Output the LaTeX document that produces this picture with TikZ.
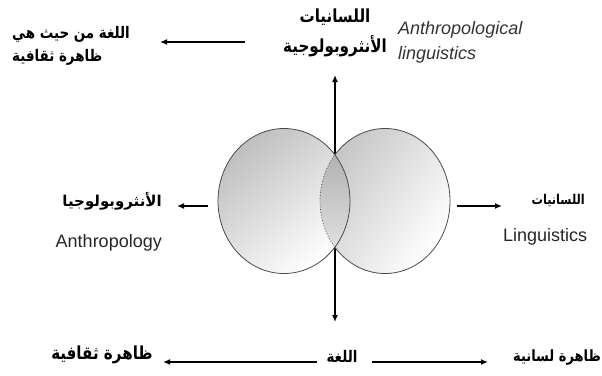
\documentclass[tikz,border=0pt]{standalone}
\usepackage{fontspec}
\setmainfont{Liberation Sans}
\newfontfamily\arabicfont[Script=Arabic, FakeStretch=0.84]{DejaVu Sans}
\newfontfamily\arabicwide[Script=Arabic]{DejaVu Sans}
\TeXXeTstate=1
\usetikzlibrary{arrows.meta}
\tikzset{
  arr/.style={line width=1.8pt, -{Latex[length=7pt,width=6pt]}},
  darr/.style={line width=1.8pt, {Latex[length=7pt,width=6pt]}-{Latex[length=7pt,width=6pt]}},
  ar/.style={font=\arabicfont\bfseries\fontsize{#1}{#1}\selectfont, inner sep=0pt},
  ar/.default=15.5,
  arw/.style={font=\arabicwide\bfseries\fontsize{#1}{#1}\selectfont, inner sep=0pt},
  lat/.style={font=\fontsize{18}{20}\selectfont, inner sep=0pt, text=black!85},
  latit/.style={font=\itshape\fontsize{18}{20}\selectfont, inner sep=0pt, text=black!80},
  outl/.style={draw=black!70, line width=0.8pt},
}
\begin{document}
\begin{tikzpicture}[x=1pt,y=-1pt]
\useasboundingbox (0,0) rectangle (602,375);
% vertical arrow (behind circles)
\coordinate (vt) at (335,75);
\coordinate (vb) at (335,322);
\draw[darr] (vt) -- (vb);
% circles
\path[shading=axis, top color=gray!50, bottom color=white, shading angle=40]
  (284,201) ellipse [x radius=66, y radius=72.5];
\path[shading=axis, top color=gray!45, bottom color=white, shading angle=55]
  (385,201) ellipse [x radius=65, y radius=72.5];
\begin{scope}
  \clip (284,201) ellipse [x radius=66, y radius=72.5];
  \path[shading=axis, top color=gray!70, bottom color=gray!15]
    (385,201) ellipse [x radius=65, y radius=72.5];
  \draw[outl, dotted] (385,201) ellipse [x radius=65, y radius=72.5];
\end{scope}
\begin{scope}[even odd rule]
  \clip (0,0) rectangle (602,375) (284,201) ellipse [x radius=66, y radius=72.5];
  \draw[outl] (385,201) ellipse [x radius=65, y radius=72.5];
\end{scope}
\draw[outl] (284,201) ellipse [x radius=66, y radius=72.5];
% top left
\node[ar=16, anchor=west] (tl1) at (12,34) {\beginR اللغة من حيث هي\endR};
\node[ar=16, anchor=west] (tl2) at (12,57) {\beginR ظاهرة ثقافية\endR};
\coordinate (tas) at (245,42);
\coordinate (tae) at (160,42);
\draw[arr] (tas) -- (tae);
% top centre
\node[ar=18] (tc1) at (335,17) {\beginR اللسانيات\endR};
\node[ar=18] (tc2) at (335,46) {\beginR الأنثروبولوجية\endR};
\node[latit, anchor=west] (al1) at (398,30) {Anthropological};
\node[latit, anchor=west] (al2) at (398,55) {linguistics};
% left
\node[arw=15, anchor=east] (l1) at (162,201) {\beginR الأنثروبولوجيا\endR};
\node[lat, anchor=east] (l2) at (162,243) {Anthropology};
\coordinate (las) at (208,206);
\coordinate (lae) at (177,206);
\draw[arr] (las) -- (lae);
% right
\node[ar=13.5, anchor=east] (r1) at (585,200) {\beginR اللسانيات\endR};
\node[lat, anchor=west] (r2) at (503,237) {Linguistics};
\coordinate (ras) at (457,206);
\coordinate (rae) at (502,206);
\draw[arr] (ras) -- (rae);
% bottom
\node[ar=18] (b1) at (102,355) {\beginR ظاهرة ثقافية\endR};
\node[ar=16] (b2) at (342,356) {\beginR اللغة\endR};
\node[ar=15.5, anchor=west] (b3) at (513,357) {\beginR ظاهرة لسانية\endR};
\coordinate (bls) at (317,362);
\coordinate (ble) at (163,362);
\coordinate (brs) at (372,362);
\coordinate (bre) at (488,362);
\draw[arr] (bls) -- (ble);
\draw[arr] (brs) -- (bre);
\end{tikzpicture}
\end{document}
